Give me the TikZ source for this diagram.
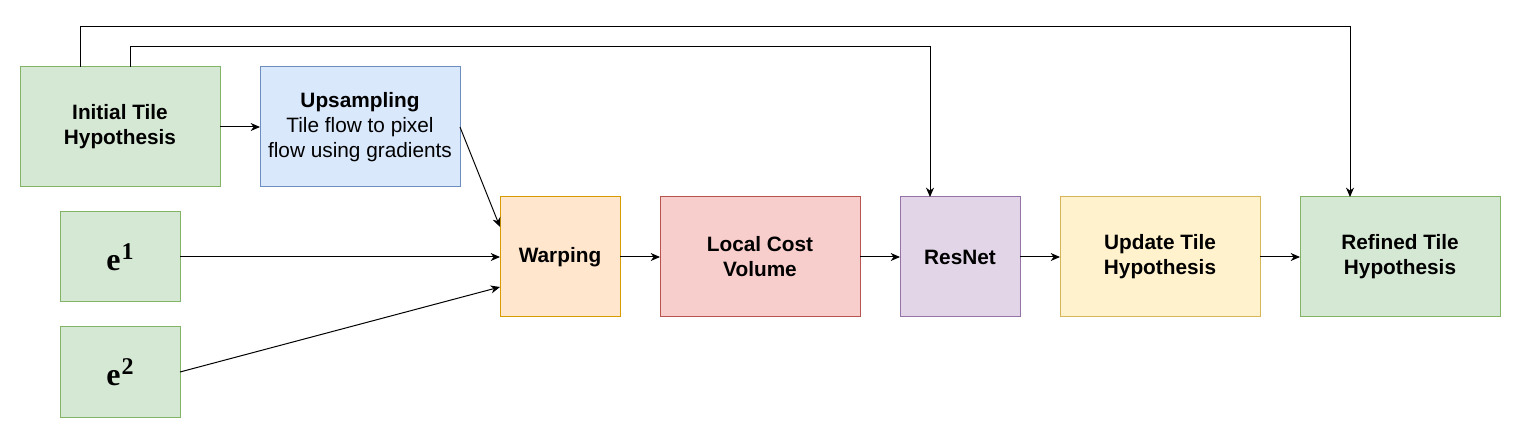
\documentclass[tikz,border=0pt]{standalone}
\usepackage{fontspec}
\setmainfont{Liberation Sans}
\newfontfamily\serifb{Liberation Serif}
\usetikzlibrary{arrows.meta}
\definecolor{gfill}{HTML}{D5E8D4}\definecolor{gline}{HTML}{82B366}
\definecolor{bfill}{HTML}{DAE8FC}\definecolor{bline}{HTML}{6C8EBF}
\definecolor{ofill}{HTML}{FFE6CC}\definecolor{oline}{HTML}{D79B00}
\definecolor{rfill}{HTML}{F8CECC}\definecolor{rline}{HTML}{B85450}
\definecolor{pfill}{HTML}{E1D5E7}\definecolor{pline}{HTML}{9673A6}
\definecolor{yfill}{HTML}{FFF2CC}\definecolor{yline}{HTML}{D6B656}
\tikzset{
  box/.style={rectangle, draw, line width=0.75pt, inner sep=0pt, outer sep=0pt,
    align=center, font=\fontsize{15.6pt}{18.75pt}\selectfont},
  wide/.style={box, minimum width=150pt, minimum height=90pt},
  sq/.style={box, minimum width=90pt, minimum height=90pt},
  small/.style={box, minimum width=90pt, minimum height=67.5pt},
  green/.style={fill=gfill, draw=gline},
  blue/.style={fill=bfill, draw=bline},
  orange/.style={fill=ofill, draw=oline},
  red/.style={fill=rfill, draw=rline},
  purple/.style={fill=pfill, draw=pline},
  yellow/.style={fill=yfill, draw=yline},
  arr/.style={draw=black, line width=0.75pt, -{Stealth[length=7pt,width=6pt,inset=2.2pt]}},
}
\newcommand{\elabel}[1]{{\serifb\bfseries\fontsize{24pt}{28pt}\selectfont e\hspace{0.8pt}\raisebox{8pt}{\fontsize{18pt}{20pt}\selectfont #1}}}
\begin{document}
\begin{tikzpicture}[x=0.75pt, y=-0.75pt]
\useasboundingbox (0,0) rectangle (1521,438);
\node[wide, green] (init) at (120,127) {\textbf{Initial Tile}\\\textbf{Hypothesis}};
\node[wide, blue] (ups) at (360,127) {\textbf{Upsampling}\\Tile flow to pixel\\flow using gradients};
\node[small, green] (e1) at (120,257) {\elabel{1}};
\node[small, green] (e2) at (120,372) {\elabel{2}};
\node[sq, orange] (warp) at (560,257) {\textbf{Warping}};
\node[wide, red] (lcv) at (760,257) {\textbf{Local Cost}\\\textbf{Volume}};
\node[sq, purple] (res) at (960,257) {\textbf{ResNet}};
\node[wide, yellow] (upd) at (1160,257) {\textbf{Update Tile}\\\textbf{Hypothesis}};
\node[wide, green] (ref) at (1400,257) {\textbf{Refined Tile}\\\textbf{Hypothesis}};

\draw[arr] (init.east) -- (ups.west);
\draw[arr] (ups.east) -- ([yshift=22.5pt]warp.west);
\draw[arr] (e1.east) -- (warp.west);
\draw[arr] (e2.east) -- ([yshift=-22.5pt]warp.west);
\draw[arr] (warp.east) -- (lcv.west);
\draw[arr] (lcv.east) -- (res.west);
\draw[arr] (res.east) -- (upd.west);
\draw[arr] (upd.east) -- (ref.west);
\draw[arr] ([xshift=45pt]init.north west) -- ++(0,-40) -| ([xshift=-37.5pt]ref.north);
\draw[arr] ([xshift=82.5pt]init.north west) -- ++(0,-20) -| ([xshift=-22.5pt]res.north);
\end{tikzpicture}
\end{document}
